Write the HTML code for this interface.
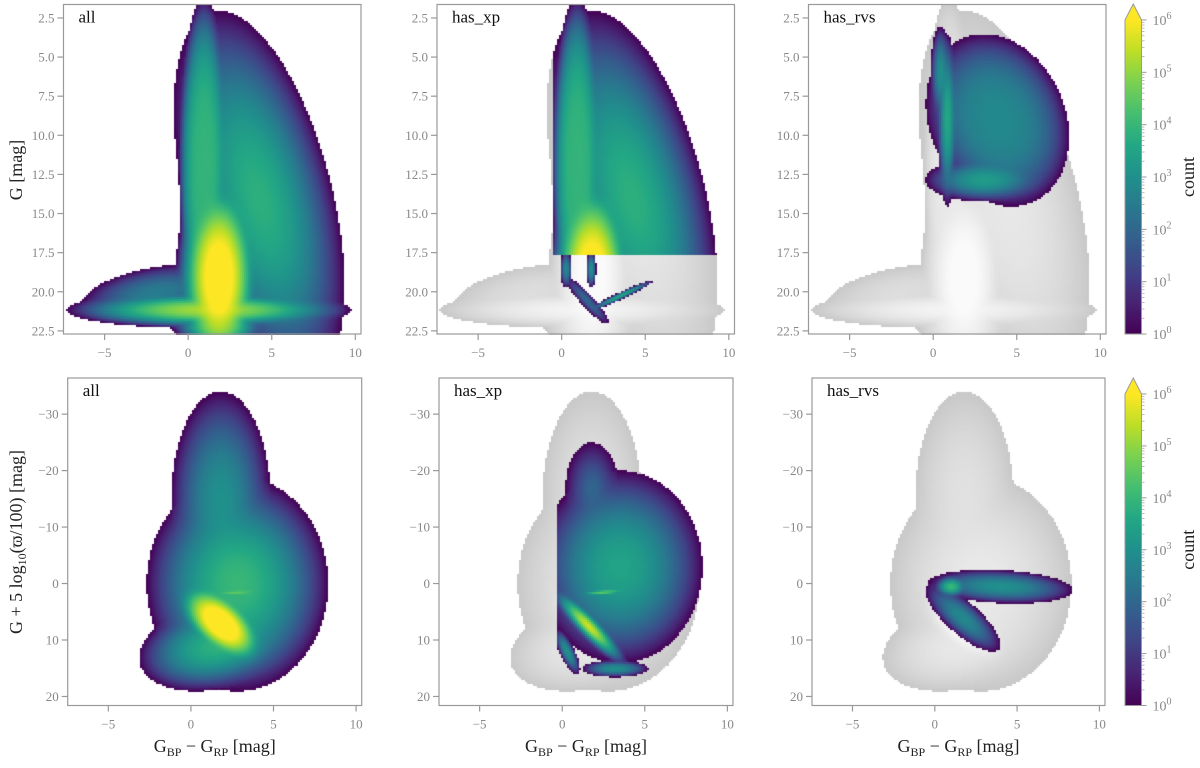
<!DOCTYPE html>
<html><head><meta charset="utf-8">
<style>
html,body{margin:0;padding:0;background:#fff;}
#wrap{position:relative;width:1200px;height:768px;overflow:hidden;font-family:"Liberation Serif",serif;}
canvas{position:absolute;}
svg{position:absolute;left:0;top:0;}
</style></head>
<body>
<div id="wrap">
<svg id="svg" width="1200" height="768"></svg>
</div>
<script>
// ---- data: density components [cx, cy, rx, ry, peakLog10, shape, shear] ----
const allTop = [[0.9,12,1.5,10.8,3.9,4,0],[1.8,19,2.6,7,6.6,2,0],[4.2,14,4.5,12,3.8,2,0.2],[1.2,21.1,8.5,1.2,5.2,2,0],[-2,20,4,1.8,2.5,2,-1.0],[1.8,22.2,2.8,1.0,4.5,2,0]];
const xpTopExtra = [[0.25,18.5,0.35,1.2,2.8,2,0],[1.75,18.5,0.3,1.2,3.0,2,0],[3.5,20.2,0.5,1.0,3.5,2,-1.9],[1.5,20.5,0.5,1.5,2,2,0.8]];
const rvsTop = [[3.8,9,4.2,5.5,2.8,3,0.15],[3.0,12.8,3.5,1.4,3.3,2,0],[0.8,9,0.6,5.5,3.6,2,0],[0.4,6,0.6,3,3.0,2,0]];
const allBot = [[1.8,7,2.4,8,6.8,2,0.2],[2.8,0,5.5,19,4.0,2,0],[1.8,-15,3,19,3.0,2,0],[1.5,11,4.5,8,3.8,2,-0.15],[2.8,1.5,1.8,0.6,4.5,2,-1]];
const xpBot = [[3.5,-3,5,17,3.5,2,0],[1.6,7.5,1.0,7,5.6,1.6,0.3],[2.5,1.5,1.5,0.7,4.5,2,-1.2],[0.3,12,0.5,4,3,2,0.15],[3.2,15,2.0,1.5,3.0,2,0],[1.8,-17,1.6,8,2.0,1.5,0]];
const rvsBot = [[4,0.5,4.3,3,3.0,2,0.3],[1,0.5,1.0,2,4.0,2,0],[1.7,6,1.4,6,2.8,2,0.3]];
const xTicks = [-5,0,5,10];
const yTicksTop = [2.5,5.0,7.5,10.0,12.5,15.0,17.5,20.0,22.5];
const yTicksBot = [-30,-20,-10,0,10,20];
const cbDecades = [0,1,2,3,4,5,6];
const panelNames = ["all","has_xp","has_rvs"];

const viridis=[[68,1,84],[72,35,116],[64,67,135],[52,94,141],[41,120,142],[32,144,140],[34,167,132],[68,190,112],[121,209,81],[189,222,38],[253,231,37]];
function vir(t){t=Math.max(0,Math.min(1,t));const f=t*(viridis.length-1),i=Math.min(viridis.length-2,Math.floor(f)),u=f-i;
 return viridis[i].map((c,k)=>Math.round(c+(viridis[i+1][k]-c)*u));}
function density(comps,x,y){let s=0;for(const c of comps){const cx=c[0]+c[6]*(y-c[1]);const dx=(x-cx)/c[2],dy=(y-c[1])/c[3];
 const r=Math.sqrt(dx*dx+dy*dy);if(r<1){const lg=c[4]*(1-Math.pow(r,c[5]));s+=Math.pow(10,lg);}}return s>=1?Math.log10(s):-1;}

const XR=[-7.46,10.34];
const panels=[
 {row:0,col:0,x0:63.5,x1:361,y0:4.5,y1:334,yr:[1.64,22.7],fg:allTop,bg:null},
 {row:0,col:1,x0:437,x1:734.5,y0:4.5,y1:334,yr:[1.64,22.7],fg:allTop,bg:allTop,clip:{xmin:-0.55,ymax:17.6},extra:xpTopExtra},
 {row:0,col:2,x0:808.5,x1:1106,y0:4.5,y1:334,yr:[1.64,22.7],fg:rvsTop,bg:allTop},
 {row:1,col:0,x0:67.7,x1:361.7,y0:378,y1:705.5,yr:[-36.4,21.6],fg:allBot,bg:null},
 {row:1,col:1,x0:439,x1:733,y0:378,y1:705.5,yr:[-36.4,21.6],fg:xpBot,bg:allBot,clip:{xmin:-0.3,ymax:99}},
 {row:1,col:2,x0:812,x1:1105,y0:378,y1:705.5,yr:[-36.4,21.6],fg:rvsBot,bg:allBot}
];
const wrap=document.getElementById('wrap'),svg=document.getElementById('svg');
const NS="http://www.w3.org/2000/svg";
function el(tag,attrs,parent,text){const e=document.createElementNS(NS,tag);for(const k in attrs)e.setAttribute(k,attrs[k]);if(text!==undefined)e.textContent=text;(parent||svg).appendChild(e);return e;}

panels.forEach((p,pi)=>{
 const W=Math.round(p.x1-p.x0),H=Math.round(p.y1-p.y0);
 const sx=v=>p.x0+(v-XR[0])/(XR[1]-XR[0])*(p.x1-p.x0);
 const sy=v=>p.y0+(v-p.yr[0])/(p.yr[1]-p.yr[0])*(p.y1-p.y0);
 const cv=document.createElement('canvas');cv.width=W;cv.height=H;cv.style.left=p.x0+'px';cv.style.top=p.y0+'px';
 
 
 wrap.insertBefore(cv,svg);
 const ctx=cv.getContext('2d');const img=ctx.createImageData(W,H);const cell=2;
 for(let py=0;py<H;py+=cell)for(let px=0;px<W;px+=cell){
  const x=XR[0]+(px+1)/W*(XR[1]-XR[0]),y=p.yr[0]+(py+1)/H*(p.yr[1]-p.yr[0]);
  let col=null;
  let lf=-1;
  if(p.clip){if(x>=p.clip.xmin&&y<=p.clip.ymax)lf=density(p.fg,x,y);
   if(p.extra){const le=density(p.extra,x,y);if(le>=0){lf=lf>=0?Math.log10(Math.pow(10,lf)+Math.pow(10,le)):le;}}}
  else lf=density(p.fg,x,y);
  if(lf>=0)col=vir(lf/6);
  else if(p.bg){const lb=density(p.bg,x,y);if(lb>=0){const g=Math.round(200+50*Math.min(1,lb/6));col=[g,g,g];}}
  if(col)for(let dy=0;dy<cell&&py+dy<H;dy++)for(let dx=0;dx<cell&&px+dx<W;dx++){const i=((py+dy)*W+px+dx)*4;img.data[i]=col[0];img.data[i+1]=col[1];img.data[i+2]=col[2];img.data[i+3]=255;}
 }
 ctx.putImageData(img,0,0);
 const g=el('g',{});
 
 
 const fr=el('rect',{x:p.x0,y:p.y0,width:p.x1-p.x0,height:p.y1-p.y0,fill:'none',stroke:'#999','stroke-width':1.2},g);
 
 xTicks.forEach(v=>{const X=sx(v);el('line',{x1:X,x2:X,y1:p.y1,y2:p.y1+6,stroke:'#999','stroke-width':1.2},g);
  const t=el('text',{x:X,y:p.y1+23,'text-anchor':'middle','font-size':13,fill:'#888'},g,v<0?'\u2212'+(-v):String(v));
  });
 const yt=p.row?yTicksBot:yTicksTop;
 yt.forEach(v=>{const Y=sy(v);el('line',{x1:p.x0-6,x2:p.x0,y1:Y,y2:Y,stroke:'#999','stroke-width':1.2},g);
  const s=p.row?(v<0?'\u2212'+(-v):String(v)):v.toFixed(1);
  const t=el('text',{x:p.x0-9,y:Y+4.5,'text-anchor':'end','font-size':13,fill:'#888'},g,s);
  });
 const lab=el('text',{x:p.x0+15,y:p.y0+18,'font-size':17,fill:'#111'},g,panelNames[p.col]);
 
 if(p.row===1){
  const xl=el('text',{x:(p.x0+p.x1)/2,y:752,'text-anchor':'middle','font-size':18,fill:'#222'},g);
  
  el('tspan',{},xl,'G');el('tspan',{'font-size':12,dy:4},xl,'BP');el('tspan',{dy:-4},xl,' \u2212 G');el('tspan',{'font-size':12,dy:4},xl,'RP');el('tspan',{dy:-4},xl,' [mag]');
 }
});
let t=el('text',{x:0,y:0,transform:'translate(22,170) rotate(-90)','text-anchor':'middle','font-size':18,fill:'#222'},null,'G [mag]');

t=el('text',{x:0,y:0,transform:'translate(22,542) rotate(-90)','text-anchor':'middle','font-size':18,fill:'#222'});

el('tspan',{},t,'G + 5 log');el('tspan',{'font-size':12,dy:4},t,'10');el('tspan',{dy:-4},t,'(\u03D6/100) [mag]');

const defs=el('defs',{});
const lg=el('linearGradient',{id:'vg',x1:0,y1:1,x2:0,y2:0},defs);
viridis.forEach((c,i)=>el('stop',{offset:i/(viridis.length-1),'stop-color':'rgb('+c.join(',')+')'},lg));
[[4,20,334,'top'],[378,394,705.5,'bottom']].forEach(([tip,y6,y0,nm])=>{
 const g=el('g',{});
 const x0=1125,x1=1141.5;
 el('rect',{x:x0,y:y6,width:x1-x0,height:y0-y6,fill:'url(#vg)'},g);
 el('polygon',{points:`${x0},${y6} ${(x0+x1)/2},${tip} ${x1},${y6}`,fill:'#fde725'},g);
 el('polygon',{points:`${x0},${y0} ${x0},${y6} ${(x0+x1)/2},${tip} ${x1},${y6} ${x1},${y0}`,fill:'none',stroke:'#999','stroke-width':1},g);
 const yd=d=>y0-(y0-y6)*d/6;
 cbDecades.forEach(d=>{const Y=yd(d);el('line',{x1:x1,x2:x1+5,y1:Y,y2:Y,stroke:'#999'},g);
  if(d<6)for(let m=2;m<10;m++){const Ym=yd(d+Math.log10(m));el('line',{x1:x1,x2:x1+3,y1:Ym,y2:Ym,stroke:'#aaa','stroke-width':0.8},g);}
  const tx=el('text',{x:x1+11,y:Y+5,'font-size':14,fill:'#888'},g);
  el('tspan',{},tx,'10');el('tspan',{'font-size':10,dy:-6},tx,String(d));});
 const c=el('text',{x:0,y:0,transform:`translate(1194,${(y6+y0)/2}) rotate(-90)`,'text-anchor':'middle','font-size':18,fill:'#222'},g,'count');
 
});
</script>
</body></html>
